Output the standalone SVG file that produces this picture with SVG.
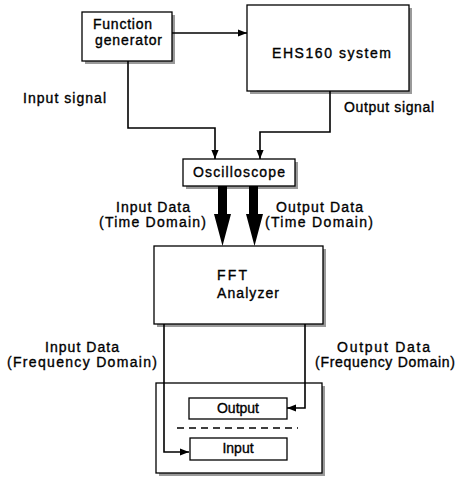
<svg xmlns="http://www.w3.org/2000/svg" width="463" height="480" viewBox="0 0 463 480">
<style>
.box{fill:#fff;stroke:#000;stroke-width:1.3}
.sh{fill:#9a9a9a}
.t{font-family:"Liberation Sans",Arial,sans-serif;font-size:14px;fill:#000;stroke:#000;stroke-width:0.35}
.ln{fill:none;stroke:#000;stroke-width:1.6}
.c{text-anchor:middle}
</style>
<defs>
<marker id="ah" viewBox="0 0 10 10" refX="10" refY="5" markerWidth="9" markerHeight="9" markerUnits="userSpaceOnUse" orient="auto">
<path d="M0,1 L10,5 L0,9 z" fill="#000"/>
</marker>
</defs>
<rect width="463" height="480" fill="#fff"/>

<g id="function-generator">
<rect class="sh" x="85" y="15" width="90" height="49"/>
<rect class="box" x="82" y="12" width="90" height="49"/>
<text class="t" x="93" y="29" textLength="59">Function</text>
<text class="t" x="95" y="45" textLength="67">generator</text>
</g>

<g id="ehs160">
<rect class="sh" x="250" y="8" width="162" height="86"/>
<rect class="box" x="247" y="5" width="162" height="86"/>
<text class="t" x="272" y="58" textLength="119">EHS160 system</text>
</g>

<g id="oscilloscope">
<rect class="sh" x="186" y="162" width="112" height="27"/>
<rect class="box" x="183" y="159" width="112" height="27"/>
<text class="t c" x="239" y="177" textLength="92">Oscilloscope</text>
</g>

<g id="fft-analyzer">
<rect class="sh" x="157" y="249" width="169" height="78"/>
<rect class="box" x="154" y="246" width="169" height="78"/>
<text class="t" x="217" y="280" textLength="30">FFT</text>
<text class="t" x="217" y="298" textLength="62">Analyzer</text>
</g>

<g id="display">
<rect class="sh" x="159" y="386" width="166" height="90"/>
<rect class="box" x="156" y="383" width="166" height="90"/>
<line x1="177" y1="428" x2="298" y2="428" stroke="#000" stroke-width="1.3" stroke-dasharray="7,5"/>
</g>

<g id="output-box">
<rect class="box" x="189" y="398" width="98" height="21"/>
<text class="t c" x="238" y="413" font-size="13.5">Output</text>
</g>

<g id="input-box">
<rect class="box" x="190" y="438" width="97" height="22"/>
<text class="t c" x="238" y="453" font-size="13.5">Input</text>
</g>

<g id="connectors">
<line class="ln" x1="172" y1="33" x2="247" y2="33" marker-end="url(#ah)"/>
<polyline class="ln" points="128,61 128,128 215,128 215,159" marker-end="url(#ah)"/>
<polyline class="ln" points="330,91 330,132 260,132 260,159" marker-end="url(#ah)"/>
<polygon points="218,186 227,186 227,214 231,214 222.5,246 214,214 218,214" fill="#000"/>
<polygon points="249,186 258,186 258,214 263,214 254.5,246 246,214 249,214" fill="#000"/>
<polyline class="ln" points="164,324 164,452 189,452" marker-end="url(#ah)"/>
<polyline class="ln" points="305,324 305,408 287,408" marker-end="url(#ah)"/>
</g>

<g id="labels">
<text class="t" x="23" y="103" textLength="83">Input signal</text>
<text class="t" x="344" y="112" textLength="90">Output signal</text>
<text class="t" x="116" y="212" textLength="74">Input Data</text>
<text class="t" x="99" y="227" textLength="107">(Time Domain)</text>
<text class="t" x="276" y="212" textLength="87">Output Data</text>
<text class="t" x="265" y="227" textLength="108">(Time Domain)</text>
<text class="t" x="45" y="352" textLength="74">Input Data</text>
<text class="t" x="7" y="367" textLength="150">(Frequency Domain)</text>
<text class="t" x="337" y="352" textLength="93">Output Data</text>
<text class="t" x="315" y="367" textLength="140">(Frequency Domain)</text>
</g>
</svg>
